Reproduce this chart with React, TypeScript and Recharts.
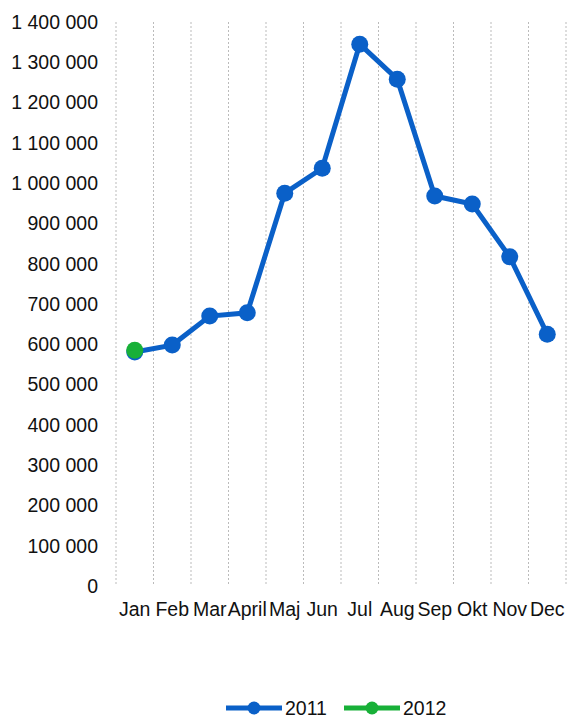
import { LineChart, Line, XAxis, YAxis, CartesianGrid, Legend } from "recharts";

const MONTHS = ["Jan", "Feb", "Mar", "April", "Maj", "Jun", "Jul", "Aug", "Sep", "Okt", "Nov", "Dec"];

const SALES_2011 = [581000, 598000, 670000, 678000, 975000, 1037000, 1345000, 1258000, 968000, 948000, 817000, 625000];

const SALES_2012: (number | null)[] = [585000, null, null, null, null, null, null, null, null, null, null, null];

const Y_TICKS = [0, 100000, 200000, 300000, 400000, 500000, 600000, 700000, 800000, 900000, 1000000, 1100000, 1200000, 1300000, 1400000];

const GRID_TICKS = [0, 1, 2, 3, 4, 5, 6, 7, 8, 9, 10, 11, 12];

const BLUE = "#0a60c8";
const GREEN = "#18b038";
const FONT = "'Liberation Sans', Arial, sans-serif";

const chartData = MONTHS.map((m, i) => ({
  month: m,
  idx: i + 0.5,
  s2011: SALES_2011[i],
  s2012: SALES_2012[i],
}));

const fmt = (v: number) => String(v).replace(/\B(?=(\d{3})+(?!\d))/g, " ");

const LegendItem = ({ color, label }: { color: string; label: string }) => (
  <div style={{ display: "flex", alignItems: "center", marginRight: 17 }}>
    <svg width={56} height={16}>
      <line x1={0} y1={8} x2={56} y2={8} stroke={color} strokeWidth={5} strokeLinecap="round" />
      <circle cx={28} cy={8} r={6.5} fill={color} />
    </svg>
    <span style={{ marginLeft: 3 }}>{label}</span>
  </div>
);

const renderLegend = () => (
  <div
    style={{
      display: "flex",
      paddingLeft: 226,
      height: 20,
      lineHeight: "20px",
      fontFamily: FONT,
      fontSize: 19.5,
      color: "#111",
    }}
  >
    <LegendItem color={BLUE} label="2011" />
    <LegendItem color={GREEN} label="2012" />
  </div>
);

const emptyTick = () => <g />;

export default function App() {
  return (
    <div style={{ position: "absolute", left: 0, top: 0, background: "#fff" }}>
      <LineChart
        width={568}
        height={718}
        data={chartData}
        margin={{ top: 22, right: 2, bottom: 0, left: 0 }}
      >
        <CartesianGrid
          horizontal={false}
          xAxisId="grid"
          stroke="#bbbbbb"
          strokeDasharray="2 2"
        />
        <XAxis
          xAxisId="grid"
          dataKey="idx"
          type="number"
          domain={[0, 12]}
          ticks={GRID_TICKS}
          interval={0}
          tick={emptyTick}
          axisLine={false}
          tickLine={false}
          height={0}
        />
        <XAxis
          xAxisId="cat"
          dataKey="month"
          type="category"
          scale="band"
          interval={0}
          axisLine={false}
          tickLine={false}
          tickMargin={10}
          height={112}
          tick={{ fill: "#111", fontSize: 19.5, fontFamily: FONT }}
        />
        <YAxis
          domain={[0, 1400000]}
          ticks={Y_TICKS}
          interval={0}
          width={116}
          axisLine={false}
          tickLine={false}
          tickMargin={12}
          tickFormatter={fmt}
          tick={{ fill: "#111", fontSize: 19.5, fontFamily: FONT }}
        />
        <Legend
          verticalAlign="bottom"
          content={renderLegend}
          wrapperStyle={{ left: 0, width: 568 }}
        />
        <Line
          xAxisId="cat"
          dataKey="s2011"
          name="2011"
          stroke={BLUE}
          strokeWidth={5}
          dot={{ r: 8.5, fill: BLUE, stroke: "none" }}
          activeDot={false}
          isAnimationActive={false}
        />
        <Line
          xAxisId="cat"
          dataKey="s2012"
          name="2012"
          stroke={GREEN}
          strokeWidth={5}
          dot={{ r: 8.5, fill: GREEN, stroke: "none" }}
          activeDot={false}
          isAnimationActive={false}
        />
      </LineChart>
    </div>
  );
}
